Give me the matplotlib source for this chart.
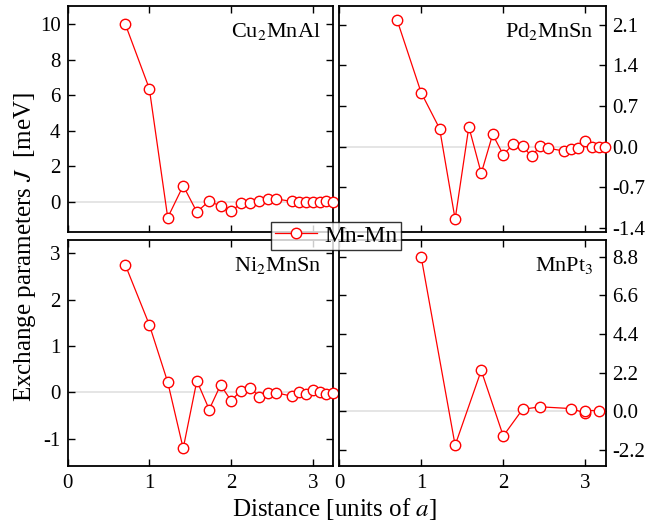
import matplotlib
matplotlib.use("Agg")
import matplotlib.pyplot as plt
from matplotlib.lines import Line2D

plt.rcParams['font.family'] = ['Liberation Serif', 'DejaVu Serif']
plt.rcParams['mathtext.fontset'] = 'stix'

# ---- data (distance in units of a, J in meV) ----
cu_x = [0.707, 1.0, 1.225, 1.414, 1.581, 1.732, 1.871, 2.0, 2.121, 2.236,
        2.345, 2.449, 2.550, 2.739, 2.828, 2.915, 3.0, 3.082, 3.162, 3.240]
cu_y = [10.0, 6.37, -0.90, 0.90, -0.58, 0.04, -0.26, -0.55, -0.09, -0.09,
        0.06, 0.13, 0.15, 0.02, 0.0, 0.0, 0.0, 0.0, 0.02, 0.0]

pd_x = [0.707, 1.0, 1.225, 1.414, 1.581, 1.732, 1.871, 2.0, 2.121, 2.236,
        2.345, 2.449, 2.550, 2.739, 2.828, 2.915, 3.0, 3.082, 3.162, 3.240]
pd_y = [2.18, 0.93, 0.31, -1.25, 0.34, -0.46, 0.21, -0.14, 0.04, 0.01,
        -0.17, 0.01, -0.03, -0.075, -0.035, -0.02, 0.10, -0.005, -0.005, 0.0]

ni_x = [0.707, 1.0, 1.225, 1.414, 1.581, 1.732, 1.871, 2.0, 2.121, 2.236,
        2.345, 2.449, 2.550, 2.739, 2.828, 2.915, 3.0, 3.082, 3.162, 3.240]
ni_y = [2.75, 1.46, 0.22, -1.21, 0.25, -0.37, 0.16, -0.18, 0.04, 0.09,
        -0.09, -0.01, -0.01, -0.08, 0.0, -0.04, 0.06, 0.01, -0.04, -0.01]

pt_x = [1.0, 1.414, 1.732, 2.0, 2.236, 2.449, 2.828, 3.0, 3.0, 3.162]
pt_y = [8.80, -1.94, 2.32, -1.41, 0.11, 0.25, 0.15, -0.11, 0.04, 0.04]

labels = ['Cu$_2$MnAl', 'Pd$_2$MnSn', 'Ni$_2$MnSn', 'MnPt$_3$']
yticks_list = [[0, 2, 4, 6, 8, 10],
               [-1.4, -0.7, 0.0, 0.7, 1.4, 2.1],
               [-1, 0, 1, 2, 3],
               [-2.2, 0.0, 2.2, 4.4, 6.6, 8.8]]
ylims = [(-1.71, 11.03), (-1.47, 2.42), (-1.59, 3.29), (-3.12, 9.75)]
xticks = [0, 1, 2, 3]

W, H = 669, 521
fig = plt.figure(figsize=(W / 100, H / 100), dpi=100)

def rect(x0, x1, y0, y1):
    return [x0 / W, 1 - y1 / H, (x1 - x0) / W, (y1 - y0) / H]

rects = [rect(67.5, 333, 6, 232), rect(339, 605.5, 6, 232),
         rect(67.5, 333, 240, 466), rect(339, 605.5, 240, 466)]
data = [(cu_x, cu_y), (pd_x, pd_y), (ni_x, ni_y), (pt_x, pt_y)]

red = '#ff0000'
for i, (r, (xs, ys)) in enumerate(zip(rects, data)):
    ax = fig.add_axes(r)
    ax.axhline(0, color='#e0e0e0', lw=1.2, zorder=0)
    ax.plot(xs, ys, '-o', color=red, lw=0.9, ms=7.5, mfc='white',
            mec=red, mew=1.0, clip_on=False, zorder=3)
    ax.set_xlim(0, 3.245)
    ax.set_ylim(*ylims[i])
    ax.set_xticks(xticks)
    ax.set_yticks(yticks_list[i])
    ax.tick_params(direction='in', length=5, width=1, top=True, right=True,
                   labelsize=15, pad=5)
    ax.tick_params(axis='x', pad=6)
    for s in ax.spines.values():
        s.set_linewidth(1.3)
    if i < 2:
        ax.tick_params(labelbottom=False)
    else:
        ax.set_xticklabels([str(t) for t in xticks])
    if i % 2 == 1:
        ax.tick_params(labelleft=False, labelright=True)
        ax.set_yticklabels(['%.1f' % t for t in yticks_list[i]])
    else:
        ax.set_yticklabels([str(t) for t in yticks_list[i]])
    ax.text(0.955, 0.935, labels[i], transform=ax.transAxes, ha='right',
            va='top', fontsize=16)

fig.text(25 / W, 1 - 247 / H, 'Exchange parameters $J$  [meV]', rotation=90,
         ha='center', va='center', fontsize=18)
fig.text(335 / W, 1 - 509 / H, 'Distance [units of $a$]', ha='center',
         va='center', fontsize=18)

handle = Line2D([], [], color=red, lw=0.9, marker='o', ms=7.5, mfc='white',
                mec=red, mew=1.0)
leg = fig.legend([handle], ['Mn-Mn'], loc='center', bbox_to_anchor=(336 / W, 1 - 236 / H),
                 frameon=True, fancybox=False, edgecolor='black', fontsize=17,
                 handlelength=1.8, borderpad=0.15, handletextpad=0.3,
                 borderaxespad=0)
leg.get_frame().set_linewidth(1.0)
leg.set_zorder(10)

fig.savefig('out.png', dpi=100)
